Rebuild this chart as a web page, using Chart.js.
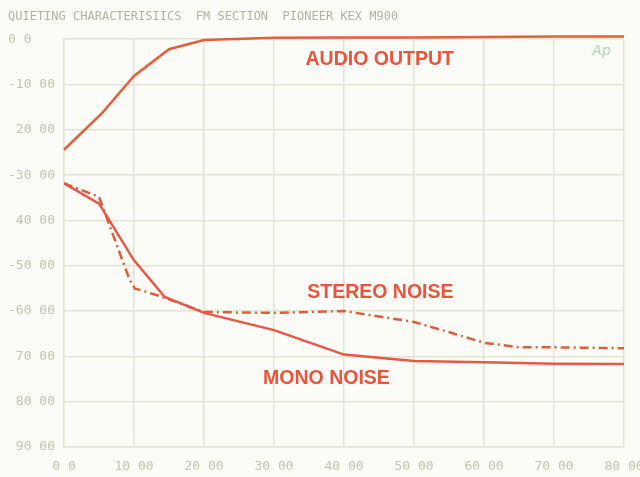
<!DOCTYPE html>
<html>
<head>
<meta charset="utf-8">
<script src="https://cdn.jsdelivr.net/npm/chart.js@4/dist/chart.umd.min.js"></script>
<style>
  html, body { margin: 0; padding: 0; background: #fbfbf7; }
  #wrap { width: 640px; height: 477px; }
</style>
</head>
<body>
<div id="wrap"><canvas id="chart"></canvas></div>
<script>
const titleText = 'QUIETING CHARACTERISIICS  FM SECTION  PIONEER KEX M900'

const audioX = [0, 5.5, 10, 15, 20, 30, 40, 50, 60, 70, 80]
const audioY = [-24.4, -16.2, -8.1, -2.2, -0.2, 0.3, 0.4, 0.4, 0.5, 0.6, 0.6]

const monoX = [0, 5, 10, 14.4, 20, 30, 40, 50, 60, 70, 80]
const monoY = [-31.8, -36.3, -48.8, -56.9, -60.4, -64.2, -69.6, -71.0, -71.3, -71.6, -71.7]

const stereoX = [0, 5, 9.4, 10.1, 13.3, 20, 30, 40, 50, 54, 60, 65, 70, 80]
const stereoY = [-31.8, -34.8, -53.2, -55, -56.5, -60.2, -60.4, -60, -62.4, -64.2, -67, -68, -68, -68.2]

const xTicks = ['0 0', '10 00', '20 00', '30 00', '40 00', '50 00', '60 00', '70 00', '80 00']
const yTicks = ['0 0', '-10 00', ' 20 00', '-30 00', ' 40 00', '-50 00', '-60 00', ' 70 00', ' 80 00', ' 90 00']

const labels = [
  { text: 'AUDIO OUTPUT', x: 45.1, y: -4.6 },
  { text: 'STEREO NOISE', x: 45.2, y: -55.9 },
  { text: 'MONO NOISE', x: 37.5, y: -74.8 },
]

const inkRed = '#e8553c'
const gridColor = '#e3e5d2'
const tickColor = '#c3c5ad'

function toPoints(xs, ys) {
  return xs.map((x, i) => ({ x, y: ys[i] }))
}

const background = {
  id: 'background',
  beforeDraw(chart) {
    const ctx = chart.ctx
    ctx.save()
    ctx.fillStyle = '#fbfbf7'
    ctx.fillRect(0, 0, chart.width, chart.height)
    ctx.restore()
  },
}

const curveLabels = {
  id: 'curveLabels',
  afterDatasetsDraw(chart) {
    const { ctx, scales } = chart
    ctx.save()
    ctx.textAlign = 'center'
    ctx.textBaseline = 'middle'
    ctx.fillStyle = inkRed
    ctx.font = 'bold 19.5px "Liberation Sans", Arial, sans-serif'
    labels.forEach((l) => {
      ctx.fillText(l.text, scales.x.getPixelForValue(l.x), scales.y.getPixelForValue(l.y))
    })
    ctx.fillStyle = '#a9d9a6'
    ctx.font = 'italic 14px "DejaVu Sans", sans-serif'
    ctx.fillText('Ap', scales.x.getPixelForValue(76.8), scales.y.getPixelForValue(-2.6))
    ctx.restore()
  },
}

new Chart(document.getElementById('chart'), {
  type: 'line',
  data: {
    datasets: [
      {
        label: 'Audio output',
        data: toPoints(audioX, audioY),
        borderColor: '#e3603e',
        borderWidth: 2.5,
        pointRadius: 0,
        tension: 0,
        clip: 6,
      },
      {
        label: 'Mono noise',
        data: toPoints(monoX, monoY),
        borderColor: '#e85848',
        borderWidth: 2.5,
        pointRadius: 0,
        tension: 0,
      },
      {
        label: 'Stereo noise',
        data: toPoints(stereoX, stereoY),
        borderColor: '#d8603a',
        borderWidth: 2.5,
        borderDash: [9, 4, 2, 4],
        pointRadius: 0,
        tension: 0,
      },
    ],
  },
  options: {
    responsive: true,
    maintainAspectRatio: false,
    animation: false,
    layout: { padding: { left: 8, right: 16, top: 0, bottom: 0 } },
    plugins: {
      legend: { display: false },
      tooltip: { enabled: false },
      title: {
        display: true,
        text: titleText,
        align: 'start',
        color: '#b2b4a2',
        font: { family: '"DejaVu Sans Mono", monospace', size: 12, weight: 'normal' },
        padding: { top: 10, bottom: 14.8 },
      },
    },
    scales: {
      x: {
        type: 'linear',
        min: 0,
        max: 80,
        afterFit(scale) {
          scale.height = 30
          scale.paddingLeft = 0
          scale.paddingRight = 0
        },
        afterBuildTicks(scale) {
          scale.ticks = xTicks.map((t, i) => ({ value: i * 10 }))
        },
        ticks: {
          color: tickColor,
          font: { family: '"DejaVu Sans Mono", monospace', size: 13 },
          padding: 12,
          maxRotation: 0,
          callback: (v, i) => xTicks[i],
        },
        grid: { color: gridColor, lineWidth: 1.5, drawTicks: false },
        border: { color: gridColor, width: 1.5 },
      },
      y: {
        type: 'linear',
        min: -90,
        max: 0,
        afterFit(scale) { scale.width = 56 },
        afterBuildTicks(scale) {
          scale.ticks = yTicks.map((t, i) => ({ value: -i * 10 }))
        },
        ticks: {
          color: tickColor,
          crossAlign: 'far',
          font: { family: '"DejaVu Sans Mono", monospace', size: 13 },
          callback: (v, i) => yTicks[i],
        },
        grid: { color: gridColor, lineWidth: 1.5, drawTicks: false },
        border: { color: gridColor, width: 1.5 },
      },
    },
  },
  plugins: [background, curveLabels],
})
</script>
</body>
</html>
